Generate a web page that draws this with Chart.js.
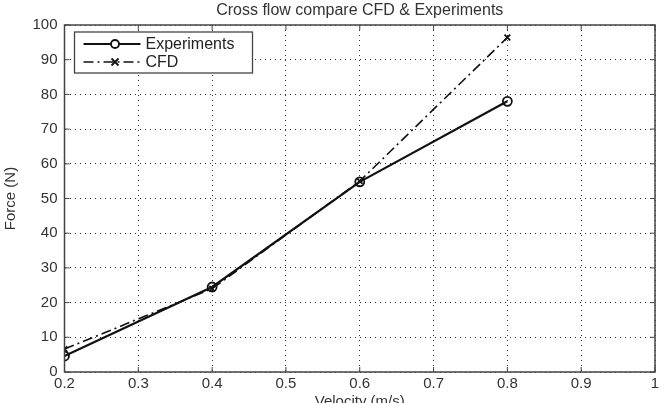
<!DOCTYPE html>
<html>
<head>
<meta charset="utf-8">
<script src="https://cdn.jsdelivr.net/npm/chart.js@4/dist/chart.umd.min.js"></script>
<style>
  html, body { margin: 0; padding: 0; background: #fff; }
  #wrap { width: 665px; height: 403px; }
</style>
</head>
<body>
<div id="wrap"><canvas id="c" width="665" height="403"></canvas></div>
<script>
// data
const velocity    = [0.2, 0.4, 0.6, 0.8];
const experiments = [4.6, 24.5, 54.8, 78.0];
const cfd         = [6.6, 24.0, 55.0, 96.4];
const xTicks      = [0.2, 0.3, 0.4, 0.5, 0.6, 0.7, 0.8, 0.9, 1];
const yTicks      = [0, 10, 20, 30, 40, 50, 60, 70, 80, 90, 100];

const FONT = 'Liberation Sans, Arial, sans-serif';
const TXT = '#333';

// box round the plot, small inward ticks, title and legend (matlab look)
const framePlugin = {
  id: 'frame',
  afterDatasetsDraw(chart) {
    const { ctx, chartArea: a, scales } = chart;
    ctx.save();
    ctx.strokeStyle = '#444';
    ctx.lineWidth = 1.5;
    ctx.strokeRect(a.left, a.top, a.right - a.left, a.bottom - a.top);
    ctx.lineWidth = 1;
    ctx.beginPath();
    xTicks.forEach(v => {
      const x = scales.x.getPixelForValue(v);
      ctx.moveTo(x, a.bottom); ctx.lineTo(x, a.bottom - 5);
      ctx.moveTo(x, a.top);    ctx.lineTo(x, a.top + 5);
    });
    yTicks.forEach(v => {
      const y = scales.y.getPixelForValue(v);
      ctx.moveTo(a.left, y);  ctx.lineTo(a.left + 5, y);
      ctx.moveTo(a.right, y); ctx.lineTo(a.right - 5, y);
    });
    ctx.stroke();
    ctx.restore();
  },
  afterDraw(chart) {
    const { ctx, chartArea: a } = chart;
    ctx.save();
    // title centred over the plot
    ctx.font = '16px ' + FONT;
    ctx.fillStyle = TXT;
    ctx.textAlign = 'center';
    ctx.textBaseline = 'middle';
    ctx.fillText('Cross flow compare CFD & Experiments', (a.left + a.right) / 2, 11);

    // legend box in the top left corner
    const bx = a.left + 10, by = a.top + 7, bw = 178, bh = 41;
    ctx.fillStyle = '#fff';
    ctx.fillRect(bx, by, bw, bh);
    ctx.strokeStyle = '#444';
    ctx.lineWidth = 1.3;
    ctx.strokeRect(bx, by, bw, bh);
    ctx.font = '16px ' + FONT;
    ctx.textAlign = 'left';
    chart.data.datasets.forEach((ds, i) => {
      const y = by + 12 + i * 18;
      const x0 = bx + 9, x1 = bx + 66;
      ctx.strokeStyle = ds.borderColor;
      ctx.lineWidth = ds.borderWidth;
      ctx.setLineDash(ds.borderDash || []);
      ctx.beginPath(); ctx.moveTo(x0, y); ctx.lineTo(x1, y); ctx.stroke();
      ctx.setLineDash([]);
      const m = (x0 + x1) / 2 + 3;
      ctx.lineWidth = 1.8;
      if (ds.pointStyle === 'circle') {
        ctx.fillStyle = '#fff';
        ctx.beginPath(); ctx.arc(m, y, 4, 0, Math.PI * 2); ctx.fill(); ctx.stroke();
      } else {
        ctx.beginPath();
        ctx.moveTo(m - 3.5, y - 3.5); ctx.lineTo(m + 3.5, y + 3.5);
        ctx.moveTo(m + 3.5, y - 3.5); ctx.lineTo(m - 3.5, y + 3.5);
        ctx.stroke();
      }
      ctx.fillStyle = '#222';
      ctx.fillText(ds.label, x1 + 5, y + 1);
    });
    ctx.restore();
  }
};

new Chart(document.getElementById('c'), {
  type: 'line',
  data: {
    datasets: [
      {
        label: 'Experiments',
        data: velocity.map((v, i) => ({ x: v, y: experiments[i] })),
        borderColor: '#111',
        borderWidth: 2.2,
        pointStyle: 'circle',
        pointRadius: 4.5,
        pointBorderWidth: 1.8,
        pointBackgroundColor: 'rgba(255,255,255,0)',
        pointBorderColor: '#111',
        tension: 0
      },
      {
        label: 'CFD',
        data: velocity.map((v, i) => ({ x: v, y: cfd[i] })),
        borderColor: '#111',
        borderWidth: 1.6,
        borderDash: [10, 4, 2, 4],
        pointStyle: 'crossRot',
        pointRadius: 4,
        pointBorderWidth: 1.8,
        pointBorderColor: '#111',
        tension: 0
      }
    ]
  },
  options: {
    responsive: false,
    animation: false,
    layout: { padding: { left: 0, right: 10, top: 25, bottom: 0 } },
    plugins: {
      legend: { display: false },
      tooltip: { enabled: false },
      title: { display: false }
    },
    scales: {
      x: {
        type: 'linear',
        min: 0.2, max: 1,
        afterBuildTicks: s => { s.ticks = xTicks.map(v => ({ value: v })); },
        afterFit: s => { s.height = 31; },
        ticks: {
          color: TXT,
          font: { family: FONT, size: 15 },
          padding: 3,
          maxRotation: 0,
          callback: v => String(Number(v.toFixed(1)))
        },
        grid: { color: '#333', lineWidth: 1, drawTicks: false },
        border: { display: false, dash: [1, 4] },
        title: {
          display: true, text: 'Velocity (m/s)', color: TXT,
          font: { family: FONT, size: 15 }, padding: { top: 0, bottom: -8 }
        }
      },
      y: {
        min: 0, max: 100,
        afterBuildTicks: s => { s.ticks = yTicks.map(v => ({ value: v })); },
        afterFit: s => { s.width = 64.5; },
        ticks: {
          color: TXT,
          font: { family: FONT, size: 15 },
          padding: 7
        },
        grid: { color: '#333', lineWidth: 1, drawTicks: false },
        border: { display: false, dash: [1, 4] },
        title: {
          display: true, text: 'Force (N)', color: TXT,
          font: { family: FONT, size: 15 }, padding: { top: 2, bottom: 0 }
        }
      }
    }
  },
  plugins: [framePlugin]
});
</script>
</body>
</html>
